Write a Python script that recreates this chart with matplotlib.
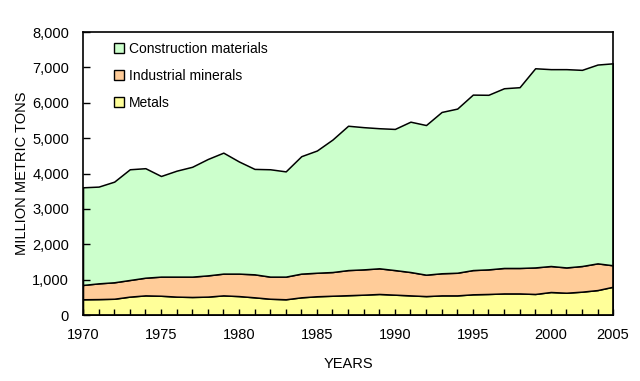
import matplotlib
matplotlib.use('Agg')
import matplotlib.pyplot as plt
from matplotlib.patches import Patch

plt.rcParams['font.family'] = ['Liberation Sans Narrow', 'Liberation Sans', 'DejaVu Sans']

years = list(range(1970, 2005))
metals = [445, 450, 460, 520, 555, 545, 520, 510, 520, 555, 535, 500, 460, 445, 500, 530, 545, 560,
          575, 595, 575, 555, 535, 555, 555, 585, 595, 610, 610, 595, 650, 630, 660, 705, 800]
industrial = [405, 445, 465, 470, 500, 540, 565, 575, 600, 615, 635, 650, 625, 640, 670, 665, 670, 710,
              715, 725, 695, 660, 605, 625, 640, 685, 695, 720, 720, 750, 735, 715, 725, 755, 605]
construction = [2760, 2735, 2845, 3130, 3095, 2845, 2995, 3105, 3290, 3420, 3170, 2980, 3035, 2975, 3320,
                3455, 3745, 4080, 4020, 3960, 3990, 4250, 4230, 4560, 4640, 4960, 4935, 5080, 5110, 5630,
                5565, 5605, 5545, 5620, 5710]
names = ['Metals', 'Industrial minerals', 'Construction materials']
colors = ['#FFFF99', '#FFCC99', '#CCFFCC']
tick_pos = [1970, 1975, 1980, 1985, 1990, 1995, 2000, 2004]
tick_labels = ['1970', '1975', '1980', '1985', '1990', '1995', '2000', '2005']

fig = plt.figure(figsize=(6.4, 3.81), dpi=100)
ax = fig.add_axes([0.1297, 0.1732, 0.8283, 0.7428])

ax.stackplot(years, metals, industrial, construction, colors=colors,
             edgecolor='black', linewidth=1.1)

ax.set_xlim(1970, 2004)
ax.set_ylim(0, 8000)
ax.set_yticks(range(0, 8001, 1000))
ax.set_yticklabels([f'{v:,}' for v in range(0, 8001, 1000)])
ax.set_xticks(tick_pos)
ax.set_xticklabels(tick_labels)
ax.set_xticks(years, minor=True)
ax.tick_params(axis='x', which='both', direction='in', length=4, width=1, pad=9, labelsize=10.5)
ax.tick_params(axis='y', direction='in', length=5, width=1, pad=10, labelsize=10.5)
for s in ax.spines.values():
    s.set_linewidth(1.2)

ax.set_xlabel('YEARS', fontsize=10.5, labelpad=11)
ax.set_ylabel('MILLION METRIC TONS', fontsize=10.5, labelpad=2)

handles = [Patch(facecolor=c, edgecolor='black', linewidth=1) for c in colors[::-1]]
ax.legend(handles, names[::-1], loc='upper left', bbox_to_anchor=(0.035, 1.01), frameon=False,
          fontsize=10, handlelength=0.75, handleheight=0.75, handletextpad=0.3, labelspacing=0.95)

fig.savefig('out.png', dpi=100)
